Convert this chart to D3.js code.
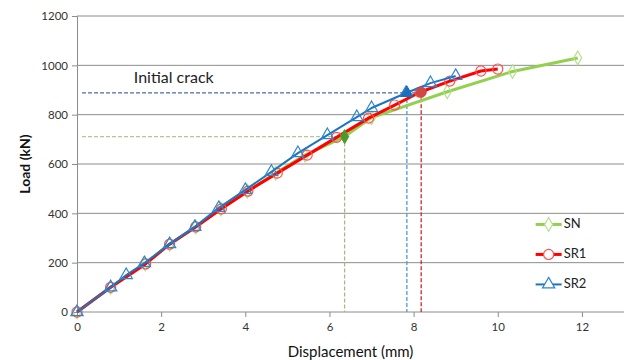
<!DOCTYPE html>
<html>
<head>
<meta charset="utf-8">
<script src="https://cdn.jsdelivr.net/npm/d3@7"></script>
<style>
  body { margin: 0; background: #fff; }
  text { font-family: Lato, "Open Sans", sans-serif; }
</style>
</head>
<body>
<svg id="chart"></svg>
<script>
// series data: [displacement mm, load kN]
const snData = [[0,0],[0.8,100],[1.62,195],[2.2,275],[2.82,345],[3.42,418],[4.05,490],[4.72,563],[5.42,636],[6.36,711],[7.0,788],[8.8,893],[10.35,975],[11.9,1030]];
const sr1Data = [[0,0],[0.8,100],[1.63,195],[2.2,275],[2.82,345],[3.43,418],[4.06,490],[4.76,563],[5.47,636],[6.17,708],[6.93,786],[7.55,839],[8.15,891],[8.86,936],[9.6,977],[10.0,985]];
const sr2Data = [[0,0],[0.8,100],[1.17,150],[1.6,198],[2.2,275],[2.8,345],[3.37,422],[4.0,495],[4.62,568],[5.25,644],[5.95,717],[6.65,790],[7.0,827],[7.82,888],[8.4,928],[9.0,957]];

// initial crack points per series
const seriesNames = ["SN", "SR1", "SR2"];
const crackX = [6.36, 8.18, 7.84];
const crackY = [711, 891, 888];

const xTicks = [0, 2, 4, 6, 8, 10, 12];
const yTicks = [0, 200, 400, 600, 800, 1000, 1200];

const config = {
    width: 632, height: 360,
    margin: {top: 16, right: 8, bottom: 48, left: 77}
};

const svg = d3.select('#chart')
    .attr('width', config.width)
    .attr('height', config.height);

const innerW = config.width - config.margin.left - config.margin.right;
const innerH = config.height - config.margin.top - config.margin.bottom;

const chart = svg.append('g')
    .attr('transform', `translate(${config.margin.left},${config.margin.top})`);

const xScale = d3.scaleLinear().domain([0, 13]).range([0, innerW]);
const yScale = d3.scaleLinear().domain([0, 1200]).range([innerH, 0]);

// horizontal gridlines
chart.selectAll('.grid')
    .data(yTicks.filter(d => d > 0))
    .join('line')
    .attr('class', 'grid')
    .attr('x1', 0).attr('x2', innerW)
    .attr('y1', d => yScale(d)).attr('y2', d => yScale(d))
    .attr('stroke', '#8c8c8c').attr('stroke-width', 1);

// axes
const yAxis = d3.axisLeft(yScale).tickValues(yTicks).tickFormat(d3.format('d')).tickSize(5).tickPadding(4);
const xAxis = d3.axisBottom(xScale).tickValues(xTicks).tickFormat(d3.format('d')).tickSize(5).tickPadding(6);

const yG = chart.append('g').call(yAxis);
const xG = chart.append('g').attr('transform', `translate(0,${innerH})`).call(xAxis);
[yG, xG].forEach(g => {
    g.select('.domain').attr('stroke', '#8c8c8c');
    g.selectAll('.tick line').attr('stroke', '#8c8c8c');
    g.selectAll('.tick text').attr('fill', '#333').style('font-size', '11.5px')
        .style('font-family', 'Lato, sans-serif');
});
xG.select('.domain').attr('d', `M0,0H${innerW}`);

// dashed helper lines for the initial crack
const dashColors = {hSN: '#b5c690', hSR2: '#4f6aa8', vSN: '#a9b985', vSR1: '#c8282d', vSR2: '#4f9ad8'};
const dashes = chart.append('g');
dashes.append('line')
    .attr('x1', xScale(0.12)).attr('x2', xScale(crackX[0]))
    .attr('y1', yScale(crackY[0])).attr('y2', yScale(crackY[0]))
    .attr('stroke', dashColors.hSN).attr('stroke-width', 1.3).attr('stroke-dasharray', '4,2');
dashes.append('line')
    .attr('x1', xScale(0.12)).attr('x2', xScale(crackX[1]))
    .attr('y1', yScale(crackY[2])).attr('y2', yScale(crackY[2]))
    .attr('stroke', dashColors.hSR2).attr('stroke-width', 1.3).attr('stroke-dasharray', '4,2');
[['vSN', 0], ['vSR1', 1], ['vSR2', 2]].forEach(([key, i]) => {
    dashes.append('line')
        .attr('x1', xScale(crackX[i])).attr('x2', xScale(crackX[i]))
        .attr('y1', yScale(crackY[i])).attr('y2', yScale(0))
        .attr('stroke', dashColors[key]).attr('stroke-width', 1.3).attr('stroke-dasharray', '4,2');
});

const series = [
    {name: 'SN', data: snData, color: '#92d050', markerColor: '#b6e08c', width: 3, symbol: d3.symbolDiamond, size: 55, crackFill: '#4c9a2a'},
    {name: 'SR1', data: sr1Data, color: '#ff0000', markerColor: '#ff5050', width: 3, symbol: d3.symbolCircle, size: 80, crackFill: '#d04545'},
    {name: 'SR2', data: sr2Data, color: '#1a75c4', markerColor: '#2e86d0', width: 2, symbol: d3.symbolTriangle, size: 65, crackFill: '#1a6fc0'}
];

const line = d3.line().x(d => xScale(d[0])).y(d => yScale(d[1]));

series.forEach((s, i) => {
    chart.append('path')
        .datum(s.data)
        .attr('d', line)
        .attr('fill', 'none')
        .attr('stroke', s.color)
        .attr('stroke-width', s.width)
        .attr('stroke-linejoin', 'round');

    chart.selectAll('.marker-' + s.name)
        .data(s.data)
        .join('path')
        .attr('class', 'marker-' + s.name)
        .attr('transform', d => `translate(${xScale(d[0])},${yScale(d[1])})`)
        .attr('d', d3.symbol().type(s.symbol).size(s.size))
        .attr('fill', 'none')
        .attr('stroke', s.markerColor)
        .attr('stroke-width', 1.2);
});

// filled markers at the initial crack points
series.forEach((s, i) => {
    chart.append('path')
        .attr('transform', `translate(${xScale(crackX[i])},${yScale(crackY[i])})`)
        .attr('d', d3.symbol().type(s.symbol).size(s.size))
        .attr('fill', s.crackFill)
        .attr('stroke', s.crackFill);
});

// annotation
chart.append('text')
    .attr('x', xScale(1.35))
    .attr('y', yScale(945))
    .attr('dominant-baseline', 'middle')
    .style('font-size', '16px')
    .attr('fill', '#222')
    .text('Initial crack');

// legend
const legend = chart.append('g')
    .attr('transform', `translate(${xScale(10.9)},${yScale(355)})`);
series.forEach((s, i) => {
    const g = legend.append('g').attr('transform', `translate(0,${i * 30})`);
    g.append('line').attr('x1', 0).attr('x2', 26).attr('stroke', s.color).attr('stroke-width', s.width);
    g.append('path')
        .attr('transform', 'translate(13,0)')
        .attr('d', d3.symbol().type(s.symbol).size(s.size))
        .attr('fill', '#fff')
        .attr('stroke', s.markerColor).attr('stroke-width', 1.2);
    g.append('text')
        .attr('x', 28).attr('y', 0)
        .attr('dominant-baseline', 'middle')
        .style('font-size', '13px')
        .attr('fill', '#222')
        .text(s.name);
});

// axis titles
svg.append('text')
    .attr('transform', `translate(30,${config.margin.top + innerH / 2}) rotate(-90)`)
    .attr('text-anchor', 'middle')
    .style('font-size', '14px')
    .style('font-weight', 'bold')
    .attr('fill', '#111')
    .text('Load (kN)');

svg.append('text')
    .attr('x', config.margin.left + innerW / 2)
    .attr('y', 353)
    .attr('text-anchor', 'middle')
    .attr('dominant-baseline', 'middle')
    .style('font-size', '15px')
    .attr('fill', '#111')
    .text('Displacement (mm)');
</script>
</body>
</html>
